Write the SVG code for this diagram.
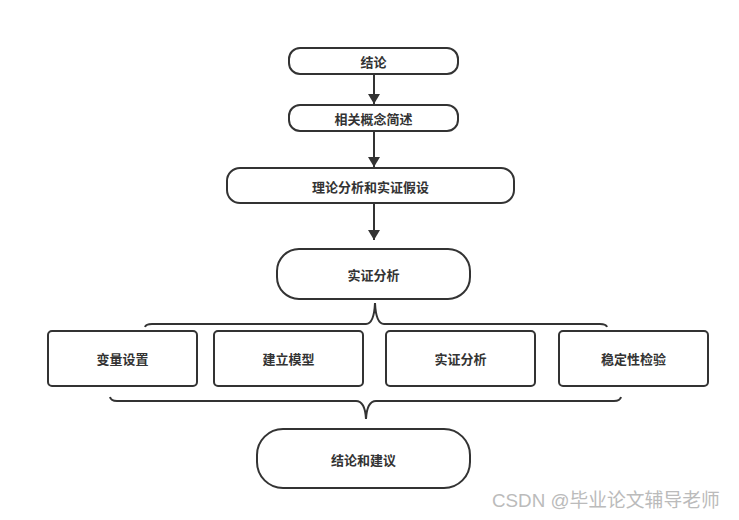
<svg xmlns="http://www.w3.org/2000/svg" width="739" height="520" viewBox="0 0 739 520">
<style>
.n{fill:#fff;stroke:#333;stroke-width:2}
.t{font-family:"Noto Sans CJK SC","Noto Sans",sans-serif;font-size:13px;font-weight:bold;fill:#333;text-anchor:middle;dominant-baseline:central}
.c{fill:none;stroke:#333;stroke-width:2}
.w{font-family:"Liberation Sans","Noto Sans CJK SC",sans-serif;font-size:18.8px;fill:#bbb}
</style>
<defs>
<marker id="ah" markerWidth="10" markerHeight="12" refX="10" refY="6" orient="auto" markerUnits="userSpaceOnUse">
<path d="M0,0 L10,6 L0,12 Z" fill="#333"/>
</marker>
</defs>
<rect width="739" height="520" fill="#fff"/>
<g id="connectors">
<line class="c" x1="374" y1="74" x2="374" y2="104" marker-end="url(#ah)"/>
<line class="c" x1="374" y1="131" x2="374" y2="167" marker-end="url(#ah)"/>
<line class="c" x1="374" y1="203" x2="374" y2="240" marker-end="url(#ah)"/>
<path class="c" d="M145,327 Q146,324 152,324 L366,324 Q374,324 375,303 Q376,324 384,324 L600,324 Q606,324 607,327"/>
<path class="c" d="M110,397 Q111,401 117,401 L356,401 Q365,401 366,419 Q367,401 376,401 L614,401 Q620,401 621,397"/>
</g>
<g id="n1"><rect class="n" x="289" y="48" width="169" height="26" rx="11"/><text class="t" x="373.5" y="61">结论</text></g>
<g id="n2"><rect class="n" x="289" y="105" width="169" height="26" rx="11"/><text class="t" x="373.5" y="118">相关概念简述</text></g>
<g id="n3"><rect class="n" x="227" y="168" width="287" height="35" rx="13"/><text class="t" x="370.5" y="186">理论分析和实证假设</text></g>
<g id="n4"><rect class="n" x="277" y="249" width="193" height="50" rx="22"/><text class="t" x="373.5" y="274">实证分析</text></g>
<g id="n5"><rect class="n" x="48" y="331" width="149" height="55" rx="4"/><text class="t" x="122.5" y="358.5">变量设置</text></g>
<g id="n6"><rect class="n" x="214" y="331" width="149" height="55" rx="4"/><text class="t" x="288.5" y="358.5">建立模型</text></g>
<g id="n7"><rect class="n" x="386" y="331" width="149" height="55" rx="4"/><text class="t" x="460.5" y="358.5">实证分析</text></g>
<g id="n8"><rect class="n" x="559" y="331" width="149" height="55" rx="4"/><text class="t" x="633.5" y="358.5">稳定性检验</text></g>
<g id="n9"><rect class="n" x="257" y="429" width="213" height="59" rx="26"/><text class="t" x="363.5" y="459">结论和建议</text></g>
<text class="w" x="492" y="507">CSDN @毕业论文辅导老师</text>
</svg>
